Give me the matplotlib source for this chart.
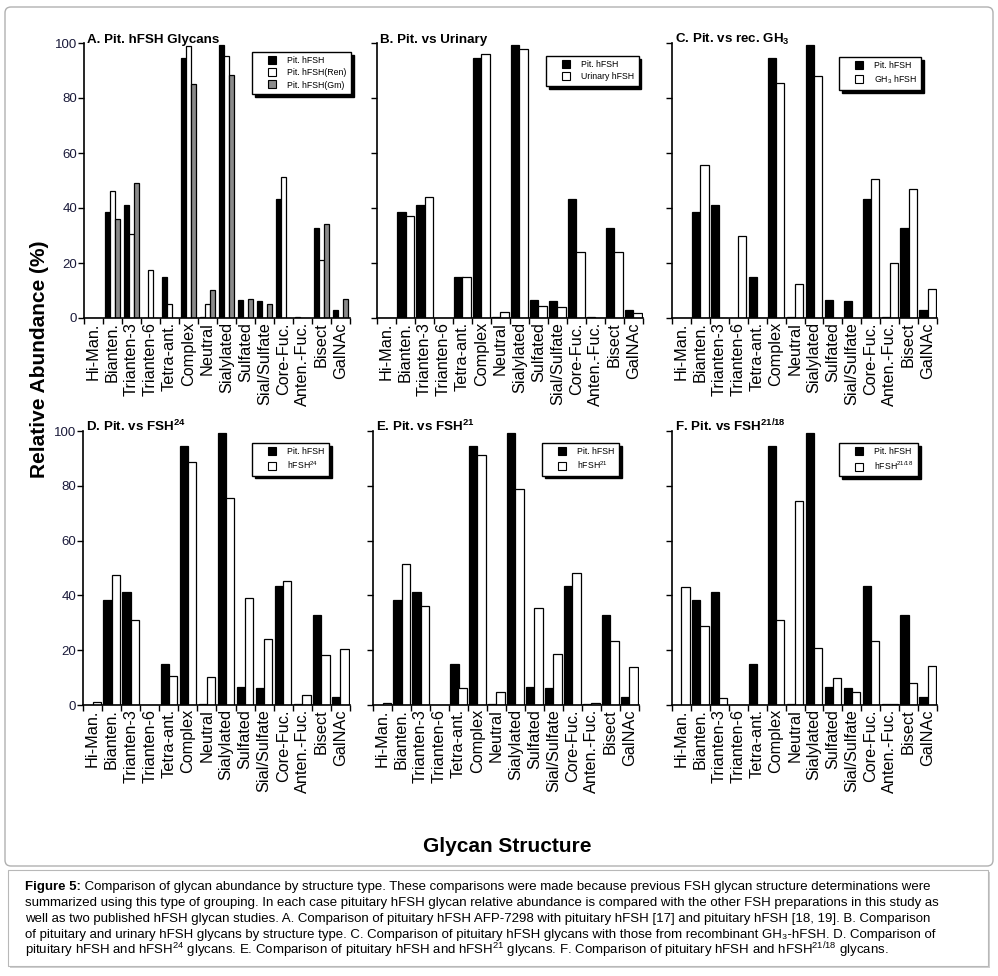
import numpy as np
import matplotlib
matplotlib.use("Agg")
import matplotlib.pyplot as plt
from matplotlib.lines import Line2D
from matplotlib.patches import FancyBboxPatch, Rectangle

plt.rcParams['font.family'] = ['Liberation Sans', 'DejaVu Sans']
plt.rcParams['mathtext.fontset'] = 'custom'
plt.rcParams['mathtext.rm'] = 'Liberation Sans'
plt.rcParams['mathtext.it'] = 'Liberation Sans:italic'
plt.rcParams['mathtext.bf'] = 'Liberation Sans:bold'

categories = ['Hi-Man.', 'Bianten.', 'Trianten-3', 'Trianten-6', 'Tetra-ant.',
              'Complex', 'Neutral', 'Sialylated', 'Sulfated', 'Sial/Sulfate',
              'Core-Fuc.', 'Anten.-Fuc.', 'Bisect', 'GalNAc']

pit = [0, 38.4, 41.2, 0, 15.0, 94.7, 0.5, 99.4, 6.7, 6.2, 43.4, 0.4, 32.8, 3.0]
pit_ren = [0, 46.2, 30.5, 17.6, 5.1, 99.0, 5.1, 95.4, 0, 0, 51.4, 0, 21.2, 0]
pit_gm = [0, 36.0, 49.1, 0, 0, 85.2, 10.3, 88.5, 7.0, 5.1, 0, 0, 34.3, 7.0]
urinary = [0, 37.1, 44.1, 0, 14.9, 96.1, 2.2, 97.9, 4.4, 4.1, 24.1, 0, 24.1, 1.8]
gh3 = [0, 55.8, 0, 29.8, 0, 85.5, 12.4, 88.0, 0, 0, 50.5, 20.0, 46.9, 10.7]
fsh24 = [1.0, 47.3, 30.9, 0, 10.5, 88.8, 10.2, 75.7, 39.2, 24.0, 45.2, 3.6, 18.1, 20.3]
fsh21 = [0.6, 51.3, 36.0, 0, 6.1, 91.4, 4.6, 79.0, 35.3, 18.5, 48.0, 0.6, 23.2, 13.7]
fsh2118 = [42.9, 28.7, 2.4, 0, 0, 30.9, 74.6, 20.7, 9.7, 4.6, 23.2, 0.3, 7.9, 14.1]

yticks = [0, 20, 40, 60, 80, 100]

panels = [
    dict(title='A. Pit. hFSH Glycans', series=[pit, pit_ren, pit_gm],
         labels=['Pit. hFSH', 'Pit. hFSH(Ren)', 'Pit. hFSH(Gm)'],
         colors=['black', 'white', '#8a8a8a'],
         box=(84, 43, 350, 318), leg=(252, 52), ylab=True),
    dict(title='B. Pit. vs Urinary', series=[pit, urinary],
         labels=['Pit. hFSH', 'Urinary hFSH'], colors=['black', 'white'],
         box=(377, 43, 643, 318), leg=(546, 56), ylab=False),
    dict(title=r'C. Pit. vs rec. GH$_{\mathbf{3}}$', series=[pit, gh3],
         labels=['Pit. hFSH', r'GH$_3$ hFSH'], colors=['black', 'white'],
         box=(672, 43, 937, 318), leg=(839, 57), ylab=False),
    dict(title=r'D. Pit. vs FSH$^{\mathbf{24}}$', series=[pit, fsh24],
         labels=['Pit. hFSH', r'hFSH$^{24}$'], colors=['black', 'white'],
         box=(83, 431, 350, 705), leg=(252, 443), ylab=True),
    dict(title=r'E. Pit. vs FSH$^{\mathbf{21}}$', series=[pit, fsh21],
         labels=['Pit. hFSH', r'hFSH$^{21}$'], colors=['black', 'white'],
         box=(373, 431, 639, 705), leg=(542, 443), ylab=False),
    dict(title=r'F. Pit. vs FSH$^{\mathbf{21/18}}$', series=[pit, fsh2118],
         labels=['Pit. hFSH', r'hFSH$^{21/18}$'], colors=['black', 'white'],
         box=(672, 431, 937, 705), leg=(839, 443), ylab=False),
]

W, H = 998, 976
fig = plt.figure(figsize=(W / 100, H / 100), dpi=100)

# outer frame and caption box
fig.add_artist(FancyBboxPatch((5 / W, 1 - 866 / H), 988 / W, 859 / H,
                              boxstyle='round,pad=0,rounding_size=0.006',
                              transform=fig.transFigure, fill=False,
                              edgecolor='#b0b0b0', linewidth=1.0))
fig.add_artist(Rectangle((10 / W, 1 - 968 / H), 980 / W, 96 / H,
                         transform=fig.transFigure, facecolor='#d0d0d0',
                         edgecolor='none'))
fig.add_artist(Rectangle((8 / W, 1 - 966 / H), 980 / W, 96 / H,
                         transform=fig.transFigure, facecolor='white',
                         edgecolor='#b8b8b8', linewidth=0.8))

x = np.arange(len(categories))
for p in panels:
    l, t, r, b = p['box']
    ax = fig.add_axes([l / W, 1 - b / H, (r - l) / W, (b - t) / H])
    n = len(p['series'])
    bw = 0.275 if n == 3 else 0.43
    for i, (vals, col) in enumerate(zip(p['series'], p['colors'])):
        off = (i - (n - 1) / 2) * bw
        ax.bar(x + off, vals, width=bw, color=col, edgecolor='black',
               linewidth=0.9, zorder=2)
    ax.set_xlim(-0.5, len(categories) - 0.5)
    ax.set_ylim(0, 100)
    for s in ['top', 'right']:
        ax.spines[s].set_visible(False)
    for s in ['left', 'bottom']:
        ax.spines[s].set_linewidth(1.2)
    ax.set_yticks(yticks)
    if p['ylab']:
        ax.set_yticklabels([str(v) for v in yticks], fontsize=9.5, color='#1a1a3a')
    else:
        ax.set_yticklabels([])
    ax.tick_params(axis='y', length=4, width=1, pad=1)
    ax.set_xticks(x)
    ax.set_xticklabels(categories, rotation=90, fontsize=11.7)
    ax.tick_params(axis='x', which='major', length=0, pad=3)
    ax.set_xticks(np.arange(-0.5, len(categories), 1), minor=True)
    ax.tick_params(axis='x', which='minor', length=4, width=1)
    ax.text(0.012, 1.0, p['title'], transform=ax.transAxes, fontsize=9.6,
            fontweight='bold', va='baseline', ha='left')
    handles = [Line2D([], [], marker='s', linestyle='none', markersize=6,
                      markerfacecolor=c, markeredgecolor='black', markeredgewidth=0.8)
               for c in p['colors']]
    lx, ly = p['leg']
    ax.legend(handles, p['labels'], loc='upper left',
              bbox_to_anchor=(lx / W, 1 - ly / H), bbox_transform=fig.transFigure,
              borderaxespad=0, fontsize=6.3, frameon=True, fancybox=False,
              shadow={'color': 'black', 'alpha': 1}, edgecolor='black',
              framealpha=1, handlelength=3.5, handletextpad=0.0,
              labelspacing=0.35, borderpad=0.5)
    ax.get_legend().get_frame().set_linewidth(1.0)

fig.text(40 / W, 1 - 359 / H, 'Relative Abundance (%)', rotation=90,
         fontsize=15, fontweight='bold', ha='center', va='center')
fig.text(507 / W, 1 - 846 / H, 'Glycan Structure', fontsize=15,
         fontweight='bold', ha='center', va='center')

cap_font = ['Liberation Sans', 'DejaVu Sans']
cap_size = 9.55
lines = [
    ' Comparison of glycan abundance by structure type. These comparisons were made because previous FSH glycan structure determinations were',
    'summarized using this type of grouping. In each case pituitary hFSH glycan relative abundance is compared with the other FSH preparations in this study as',
    'well as two published hFSH glycan studies. A. Comparison of pituitary hFSH AFP-7298 with pituitary hFSH [17] and pituitary hFSH [18, 19]. B. Comparison',
    'of pituitary and urinary hFSH glycans by structure type. C. Comparison of pituitary hFSH glycans with those from recombinant GH\u2083-hFSH. D. Comparison of',
    r'pituitary hFSH and hFSH$^{24}$ glycans. E. Comparison of pituitary hFSH and hFSH$^{21}$ glycans. F. Comparison of pituitary hFSH and hFSH$^{21/18}$ glycans.',
]
baselines = [890, 906, 922, 938, 954]
t0 = fig.text(25 / W, 1 - baselines[0] / H, 'Figure 5:', fontsize=cap_size,
              fontweight='bold', family=cap_font, va='baseline', ha='left')
fig.canvas.draw()
bb = t0.get_window_extent(renderer=fig.canvas.get_renderer())
fig.text(bb.x1 / W, 1 - baselines[0] / H, lines[0], fontsize=cap_size,
         family=cap_font, va='baseline', ha='left')
for ln, yb in zip(lines[1:], baselines[1:]):
    fig.text(25 / W, 1 - yb / H, ln, fontsize=cap_size, family=cap_font,
             va='baseline', ha='left')

fig.savefig('out.png', dpi=100)
